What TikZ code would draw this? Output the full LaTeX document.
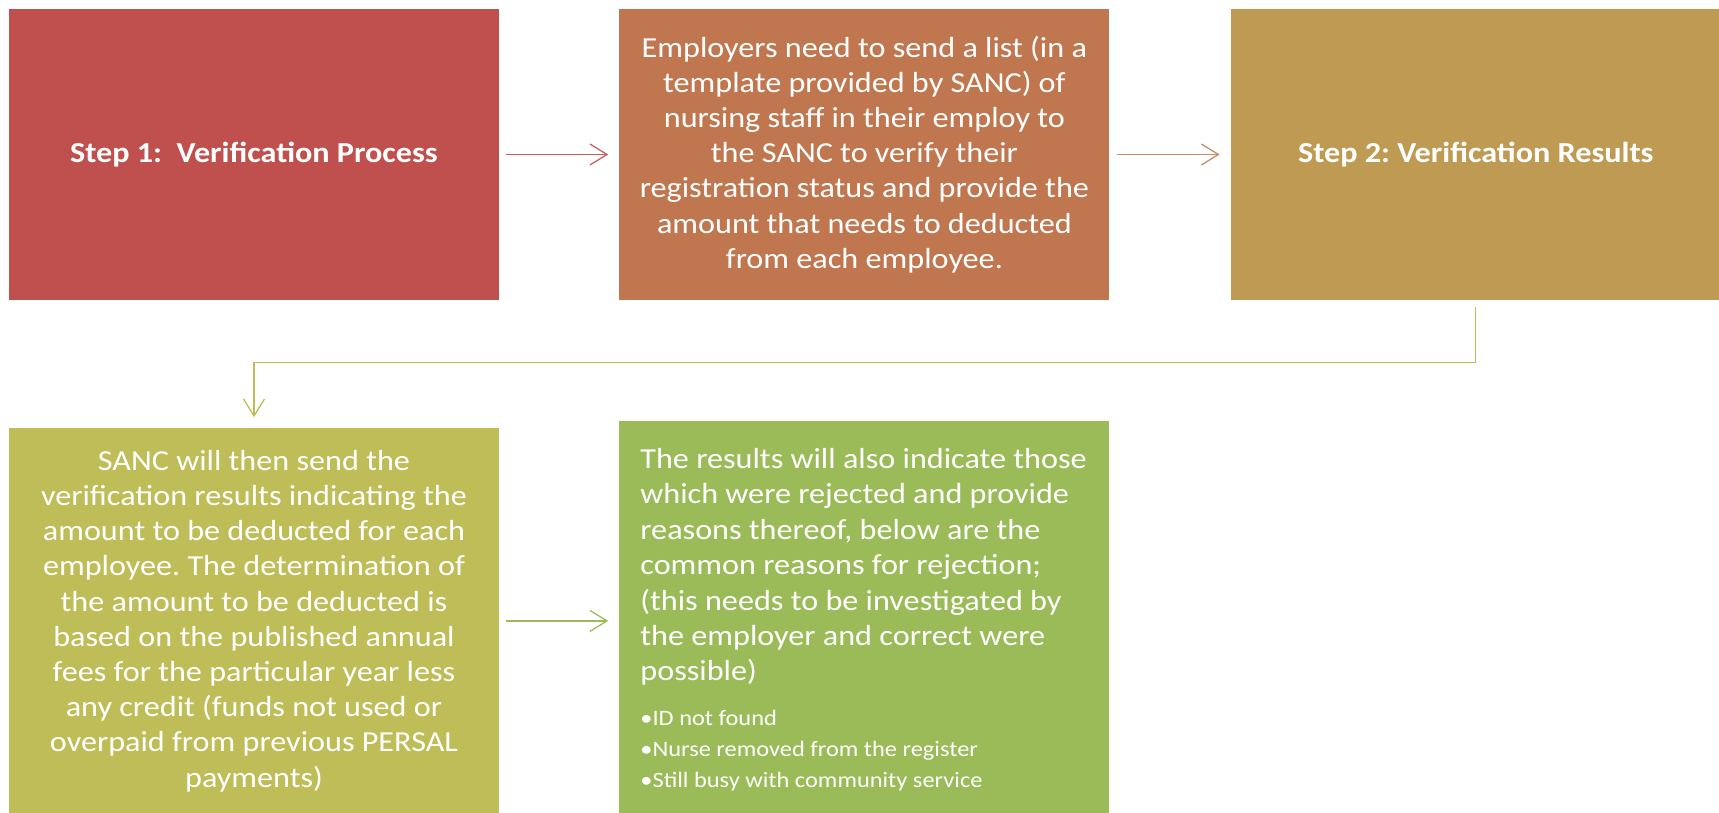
\documentclass[tikz,border=0pt]{standalone}
\usepackage{fontspec}
\setmainfont{Carlito}[FakeStretch=1.11]
\usetikzlibrary{positioning}
\usetikzlibrary{arrows.meta}

\definecolor{stepred}{HTML}{C0504D}
\definecolor{steporange}{HTML}{C0774F}
\definecolor{stepgold}{HTML}{BE9A52}
\definecolor{stepolive}{HTML}{BEBD58}
\definecolor{stepgreen}{HTML}{9BBB59}
\frenchspacing

\begin{document}
\begin{tikzpicture}[x=1pt, y=-1pt,
                    node distance=120pt and 120pt,
                    stepbox/.style={rectangle, fill=#1, text=white, minimum width=490pt, minimum height=291pt,
                                    inner sep=0pt, align=center, font=\fontsize{29}{35.2}\selectfont},
                    link/.style={draw=#1, line width=1.3pt, shorten <=7pt, shorten >=11pt,
                                 -{Straight Barb[length=17pt, width=21pt, line width=1.3pt]}},
                    notetext/.style={text=white, inner sep=0pt, align=left, anchor=north west},
                   ]
    \useasboundingbox (0,0) rectangle (1719,813);

    %Nodes
    \node[stepbox=stepred]    (verify)                      at (254,154.5) {\textbf{Step 1:\ \ Verification Process}};
    \node[stepbox=steporange] (employers) [right=of verify]    {Employers need to send a list (in a\\template provided by SANC) of\\nursing staff in their employ to\\the SANC to verify their\\registration status and provide the\\amount that needs to deducted\\from each employee.};
    \node[stepbox=stepgold]   (outcome)   [right=121pt of employers] {\textbf{Step 2: Verification Results}};
    \node[stepbox=stepolive, minimum height=385pt] (sanc) [below=128pt of verify]
          {SANC will then send the\\verification results indicating the\\amount to be deducted for each\\employee. The determination of\\the amount to be deducted is\\based on the published annual\\fees for the particular year less\\any credit (funds not used or\\overpaid from previous PERSAL\\payments)};
    \node[stepbox=stepgreen, minimum height=392pt] (results) [below=121pt of employers] {};
    \node[notetext, font=\fontsize{29}{35.4}\selectfont] (rejected) at ([xshift=21pt, yshift=-27pt]results.north west)
          {The results will also indicate those\\which were rejected and provide\\reasons thereof, below are the\\common reasons for rejection;\\(this needs to be investigated by\\the employer and correct were\\possible)};
    \node[notetext, font=\fontsize{22}{31}\selectfont] (reasons) at ([yshift=-24pt]rejected.south west)
          {\textbullet ID not found\\\textbullet Nurse removed from the register\\\textbullet Still busy with community service};

    %Lines
    \draw[link=stepred!90!white]    (verify.east) -- (employers.west);
    \draw[link=steporange!85!white] (employers.east) -- (outcome.west);
    \draw[link=stepolive]           (outcome.south) -- ++(0,62) -| (sanc.north);
    \draw[link=stepgreen!90!stepolive] (sanc.east) -- (sanc.east -| results.west);
\end{tikzpicture}
\end{document}
